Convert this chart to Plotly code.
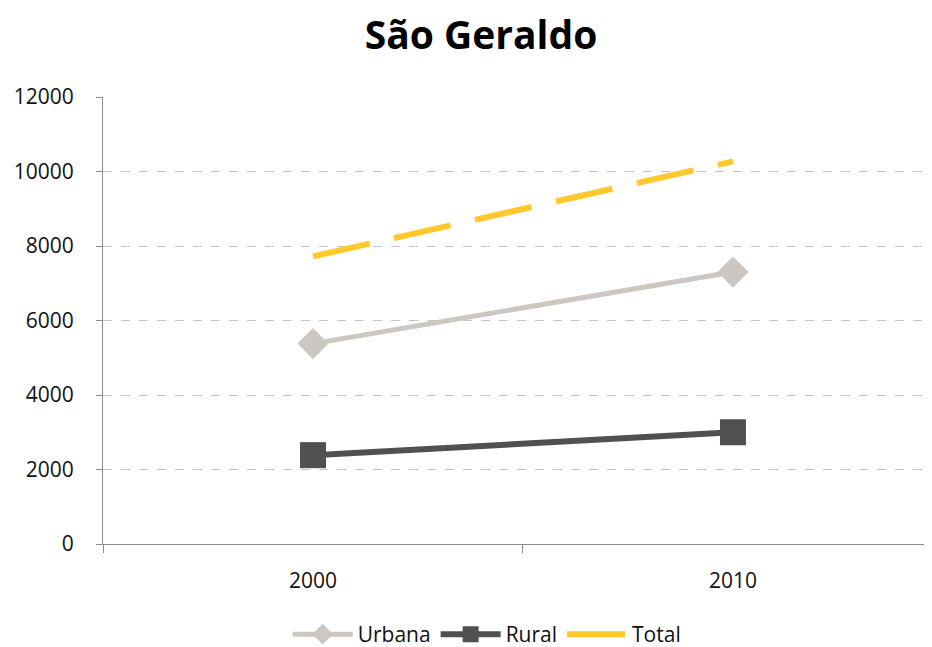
import plotly.graph_objects as go

# data
years = ['2000', '2010']
urbana = [5380, 7300]
rural = [2385, 3000]
total = [7720, 10270]
y_ticks = [0, 2000, 4000, 6000, 8000, 10000, 12000]

C = {
    'urbana': '#CCC7C1',
    'rural':  '#505050',
    'total':  '#FFC92E',
    'axis':   '#8C8C8C',
    'grid':   '#C4C4C4',
    'text':   '#111111',
}
FONT = 'Open Sans, sans-serif'

fig = go.Figure()
fig.add_trace(go.Scatter(
    x=years, y=urbana, name='Urbana', mode='lines+markers',
    line=dict(color=C['urbana'], width=5),
    marker=dict(symbol='diamond', size=24, color=C['urbana']),
))
fig.add_trace(go.Scatter(
    x=years, y=rural, name='Rural', mode='lines+markers',
    line=dict(color=C['rural'], width=6),
    marker=dict(symbol='square', size=26, color=C['rural']),
))
fig.add_trace(go.Scatter(
    x=years, y=total, name='Total', mode='lines',
    line=dict(color=C['total'], width=6, dash='58px,25px'),
))

# the page body has an 8px margin, so everything is placed 8px up/left
fig.update_layout(
    width=932, height=647,
    paper_bgcolor='white', plot_bgcolor='white',
    margin=dict(l=95, r=0, t=89, b=110),
    font=dict(family=FONT, color=C['text'], size=21),
    title=dict(text='<b>São Geraldo</b>', x=0.5075, xanchor='center',
               y=0.958, yanchor='middle',
               font=dict(family=FONT, size=39, color='#000000')),
    showlegend=True,
    legend=dict(orientation='h', x=0.459, xanchor='center', y=-0.203, yanchor='middle',
                font=dict(size=21), itemwidth=60, tracegroupgap=0),
    xaxis=dict(
        type='category', range=[-0.5, 1.493],
        showgrid=False, zeroline=False,
        showline=True, linecolor=C['axis'], linewidth=1,
        ticks='outside', tickson='boundaries', ticklen=8, tickcolor=C['axis'],
        ticklabelstandoff=18,
    ),
    yaxis=dict(
        range=[0, 12000], tickvals=y_ticks, tickformat='d',
        showgrid=True, gridcolor=C['grid'], griddash='dash', gridwidth=1,
        zeroline=False,
        showline=True, linecolor=C['axis'], linewidth=1,
        ticks='outside', ticklen=6, tickcolor=C['axis'],
        ticklabelstandoff=18,
    ),
)

fig.write_html('out.html')
